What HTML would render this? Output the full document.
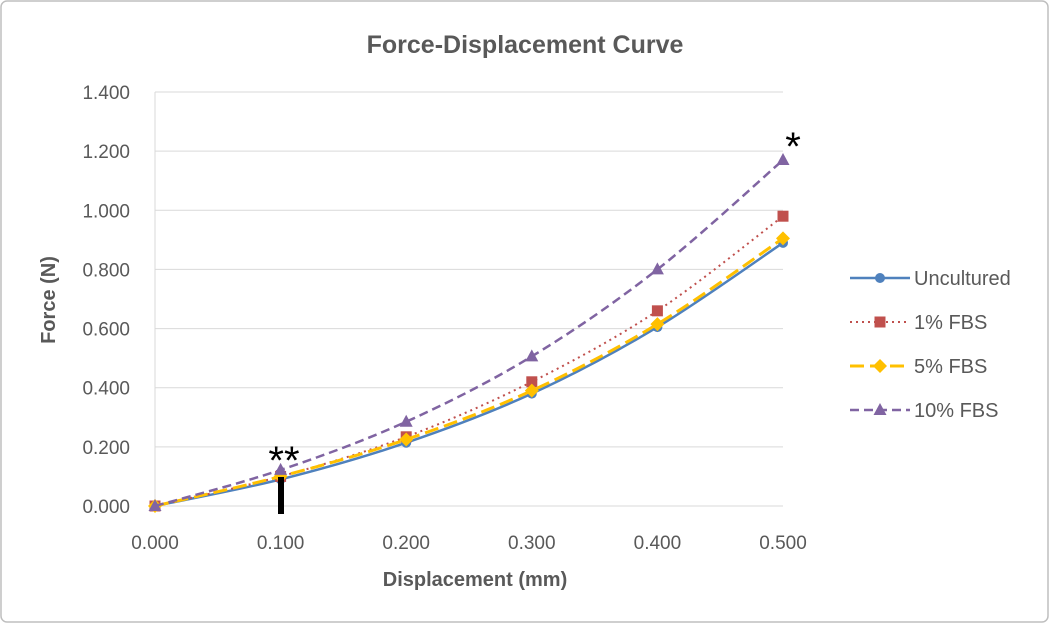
<!DOCTYPE html>
<html><head><meta charset="utf-8"><style>
html,body{margin:0;padding:0;background:#fff}
svg{display:block}
text{font-family:"Liberation Sans",Arial,sans-serif}
</style></head><body>
<svg id="chart" width="1050" height="624" viewBox="0 0 1050 624" xmlns="http://www.w3.org/2000/svg">
<rect x="1" y="1" width="1047" height="621" rx="6" fill="#fff" stroke="#bfbfbf" stroke-width="1.5"/>
<text x="525" y="53" text-anchor="middle" font-size="25" font-weight="bold" fill="#595959">Force-Displacement  Curve</text>
<g id="grid"></g>
<g id="yticks"></g>
<g id="xticks"></g>
<text x="475" y="586" text-anchor="middle" font-size="20" font-weight="bold" fill="#595959">Displacement (mm)</text>
<text transform="translate(55,300) rotate(-90)" text-anchor="middle" font-size="20" font-weight="bold" fill="#595959">Force (N)</text>
<g id="series"></g>
<rect x="278" y="477" width="6" height="37" fill="#000"/>
<text x="284" y="474" text-anchor="middle" font-size="40" fill="#000">**</text>
<text x="793" y="160" text-anchor="middle" font-size="40" fill="#000">*</text>
<g id="legend"></g>
</svg>
<script>
const xValues=[0,0.1,0.2,0.3,0.4,0.5];
const uncultured=[0,0.09,0.214,0.38,0.605,0.89];
const fbs1=[0,0.10,0.234,0.42,0.66,0.98];
const fbs5=[0,0.10,0.225,0.39,0.615,0.905];
const fbs10=[0,0.122,0.285,0.506,0.80,1.17];
const yTickLabels=["0.000","0.200","0.400","0.600","0.800","1.000","1.200","1.400"];
const xTickLabels=["0.000","0.100","0.200","0.300","0.400","0.500"];
const seriesNames=["Uncultured","1% FBS","5% FBS","10% FBS"];

const NS="http://www.w3.org/2000/svg";
const X0=155,X1=783,Y0=506,Y1=92;
const xs=v=>X0+(v/0.5)*(X1-X0);
const ys=v=>Y0-(v/1.4)*(Y0-Y1);
function mk(tag,attrs,parent){const e=document.createElementNS(NS,tag);for(const k in attrs)e.setAttribute(k,attrs[k]);parent.appendChild(e);return e;}
const grid=document.getElementById('grid'),yt=document.getElementById('yticks'),xt=document.getElementById('xticks');
yTickLabels.forEach((l,i)=>{const v=parseFloat(l),y=ys(v);
 const g=mk('line',{x1:X0,x2:X1,y1:y,y2:y,stroke:'#d9d9d9','stroke-width':1},grid);
 
 
 const t=mk('text',{x:X0-25,y:y+7,'text-anchor':'end','font-size':19,fill:'#595959'},yt);t.textContent=l;
 
 });
const ax=mk('line',{x1:X0,x2:X0,y1:Y1,y2:Y0,stroke:'#d9d9d9','stroke-width':1},grid);


xTickLabels.forEach(l=>{const x=xs(parseFloat(l));
 const t=mk('text',{x:x,y:549,'text-anchor':'middle','font-size':19,fill:'#595959'},xt);t.textContent=l;
 
 });
function smooth(pts){let d=`M${pts[0][0]},${pts[0][1]}`;
 for(let i=0;i<pts.length-1;i++){const p0=pts[Math.max(0,i-1)],p1=pts[i],p2=pts[i+1],p3=pts[Math.min(pts.length-1,i+2)];
  const c1=[p1[0]+(p2[0]-p0[0])/6,p1[1]+(p2[1]-p0[1])/6],c2=[p2[0]-(p3[0]-p1[0])/6,p2[1]-(p3[1]-p1[1])/6];
  d+=` C${c1[0]},${c1[1]} ${c2[0]},${c2[1]} ${p2[0]},${p2[1]}`;}return d;}
const styles=[{c:'#4f81bd',dash:'',m:'circle',w:2.5},{c:'#c0504d',dash:'2,4',m:'square',w:2},{c:'#ffc000',dash:'14,6',m:'diamond',w:3},{c:'#8064a2',dash:'9,5',m:'triangle',w:2.5}];
function marker(type,x,y,c,parent){let e;
 if(type==='circle')e=mk('circle',{cx:x,cy:y,r:5,fill:c},parent);
 else if(type==='square')e=mk('rect',{x:x-5.5,y:y-5.5,width:11,height:11,fill:c},parent);
 else if(type==='diamond')e=mk('polygon',{points:`${x},${y-7} ${x+7},${y} ${x},${y+7} ${x-7},${y}`,fill:c},parent);
 else e=mk('polygon',{points:`${x},${y-7} ${x+6.5},${y+5} ${x-6.5},${y+5}`,fill:c},parent);
 return e;}
const sg=document.getElementById('series'),lg=document.getElementById('legend');
[uncultured,fbs1,fbs5,fbs10].forEach((data,si)=>{const s=styles[si];
 const pts=data.map((v,i)=>[xs(xValues[i]),ys(v)]);
 const p=mk('path',{d:smooth(pts),fill:'none',stroke:s.c,'stroke-width':s.w,'stroke-dasharray':s.dash},sg);
 
 
 pts.forEach(pt=>{const m=marker(s.m,pt[0],pt[1],s.c,sg);
  
  });
 const ly=278+si*44;
 const ll=mk('line',{x1:850,x2:910,y1:ly,y2:ly,stroke:s.c,'stroke-width':s.w,'stroke-dasharray':s.dash},lg);
 
 
 const lm=marker(s.m,880,ly,s.c,lg);
 
 
 const lt=mk('text',{x:914,y:ly+7,'font-size':20,fill:'#595959'},lg);lt.textContent=seriesNames[si];
 
 });
</script>
</body></html>
